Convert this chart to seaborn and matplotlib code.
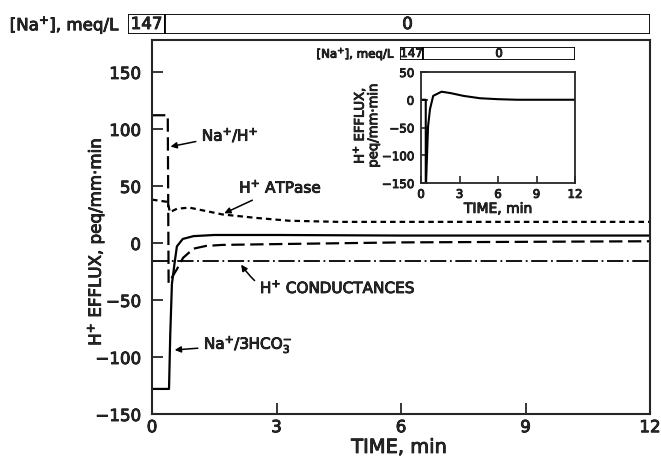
import numpy as np
import matplotlib
matplotlib.use("Agg")
import matplotlib.pyplot as plt
import matplotlib.patheffects as pe
from matplotlib.text import Text
import seaborn as sns
import pandas as pd

# H+ efflux components after removal of luminal Na+
t_hco3 = [0, 0.41, 0.44, 0.48, 0.55, 0.6, 0.74, 1.0, 1.5, 3, 6, 12]
v_hco3 = [-128, -128, -80, -36, -16, -3, 3.5, 6, 7, 7, 6.5, 6.5]

t_nah = [0, 0.38, 0.40, 0.45, 0.5, 0.6, 0.75, 1.0, 1.3, 1.7, 3, 6, 12]
v_nah = [112, 112, -35, -33, -29, -23, -13, -5, -2.6, -1.7, -1, 0.5, 1.5]

t_atp = [0, 0.38, 0.43, 0.6, 0.9, 1.3, 1.7, 2.5, 3.3, 4.5, 6, 9, 12]
v_atp = [38, 36, 27, 30, 31, 28, 25, 22, 19.5, 18.5, 18.5, 18.5, 18.5]

t_cond = [0, 12]
v_cond = [-15.5, -15.5]

# inset: total H+ efflux
t_total = [0, 0.37, 0.37, 0.55, 0.7, 0.95, 1.6, 2.3, 3.3, 4.6, 6, 7.5, 12]
v_total = [0, 0, -165, -48, -17, 7, 14.5, 12, 7, 2.7, 1, 0, 0]

na_labels = ["147", "0"]
x_ticks = [0, 3, 6, 9, 12]
main_yticks = [-150, -100, -50, 0, 50, 100, 150]
inset_yticks = [-150, -100, -50, 0, 50]

sns.set_style("ticks")
plt.rcParams['font.family'] = ['DejaVu Sans']
plt.rcParams['mathtext.fontset'] = 'dejavusans'
plt.rcParams['mathtext.default'] = 'regular'

fig = plt.figure(figsize=(6.61, 4.59), dpi=100)
ax = fig.add_axes([152 / 661, 1 - 414 / 459, 498 / 661, 374 / 459])


def draw(axis, t, v, style, lw=1.6):
    df = pd.DataFrame({"t": t, "v": v})
    sns.lineplot(data=df, x="t", y="v", ax=axis, color="black", lw=lw,
                 estimator=None, sort=False, linestyle=style)


draw(ax, t_hco3, v_hco3, "-")
draw(ax, t_nah, v_nah, (0, (6, 2.5)))
draw(ax, t_atp, v_atp, (0, (2.5, 1.8)))
draw(ax, t_cond, v_cond, (0, (9, 2, 1, 2)), lw=1.3)

ax.set_xlim(0, 12)
ax.set_ylim(-150, 178)
ax.set_xticks(x_ticks)
ax.set_yticks(main_yticks)
ax.tick_params(direction="in", length=8, width=1.3, labelsize=12)
ax.tick_params(axis="y", pad=8)
ax.tick_params(axis="x", pad=3)
for s in ax.spines.values():
    s.set_linewidth(1.5)
    s.set_visible(True)
ax.set_xlabel("TIME, min", fontsize=14)
ax.set_ylabel("H$^{+}$ EFFLUX, peq/mm·min", fontsize=12)
ax.xaxis.set_label_coords(0.496, -0.064)
ax.yaxis.set_label_coords(-0.09, 0.46)

arrow = dict(arrowstyle="-|>", color="black", lw=1.1, mutation_scale=9)
ax.annotate("Na$^{+}$/H$^{+}$", xy=(0.38, 84), xytext=(1.2, 95),
            ha="left", va="center", fontsize=11, arrowprops=arrow)
ax.annotate("H$^{+}$ ATPase", xy=(1.68, 25), xytext=(2.1, 49),
            ha="left", va="center", fontsize=11, arrowprops=arrow)
ax.annotate("H$^{+}$ CONDUCTANCES", xy=(2.11, -17), xytext=(2.6, -39),
            ha="left", va="center", fontsize=11,
            arrowprops=dict(arrow, connectionstyle="arc3,rad=-0.45"))
ax.annotate("Na$^{+}$/3HCO$_{3}^{-}$", xy=(0.48, -94), xytext=(1.25, -89),
            ha="left", va="center", fontsize=11, arrowprops=arrow)

# sodium concentration bars
def na_bar(left, bottom, width, height, split, fs):
    bx = fig.add_axes([left, bottom, width, height])
    bx.set_xlim(0, 1)
    bx.set_ylim(0, 1)
    bx.barh([0.5], [split], left=[0], height=1, color="white", edgecolor="black", lw=1.3)
    bx.barh([0.5], [1 - split], left=[split], height=1, color="white", edgecolor="black", lw=1.3)
    bx.text(split / 2, 0.5, na_labels[0], ha="center", va="center", fontsize=fs)
    bx.text(split + (1 - split) / 2, 0.5, na_labels[1], ha="center", va="center", fontsize=fs)
    bx.axis("off")
    return bx


na_bar(128 / 661, 1 - 34 / 459, 522 / 661, 20 / 459, 37 / 522, 12)
fig.text(120 / 661, 1 - 25 / 459, "[Na$^{+}$], meq/L", ha="right", va="center", fontsize=12)

# inset
ins = fig.add_axes([421 / 661, 1 - 183 / 459, 154 / 661, 111 / 459])
draw(ins, t_total, v_total, "-", lw=1.5)
ins.set_xlim(0, 12)
ins.set_ylim(-150, 50)
ins.set_xticks(x_ticks)
ins.set_yticks(inset_yticks)
ins.tick_params(direction="in", length=5, width=1.2, labelsize=8.5)
ins.tick_params(axis="y", pad=5)
for s in ins.spines.values():
    s.set_linewidth(1.3)
    s.set_visible(True)
ins.set_xlabel("TIME, min", fontsize=10)
ins.set_ylabel("H$^{+}$ EFFLUX,\npeq/mm·min", fontsize=9.5, linespacing=1.0)
ins.xaxis.set_label_coords(0.5, -0.17)
ins.yaxis.set_label_coords(-0.265, 0.52)

na_bar(400 / 661, 1 - 60 / 459, 175 / 661, 13 / 459, 23 / 175, 8.5)
fig.text(395 / 661, 1 - 54 / 459, "[Na$^{+}$], meq/L", ha="right", va="center", fontsize=8.5)

# heavier lettering like the original
for txt in fig.findobj(Text):
    txt.set_path_effects([pe.withStroke(linewidth=0.6, foreground="black")])

fig.savefig("out.png", dpi=100)
